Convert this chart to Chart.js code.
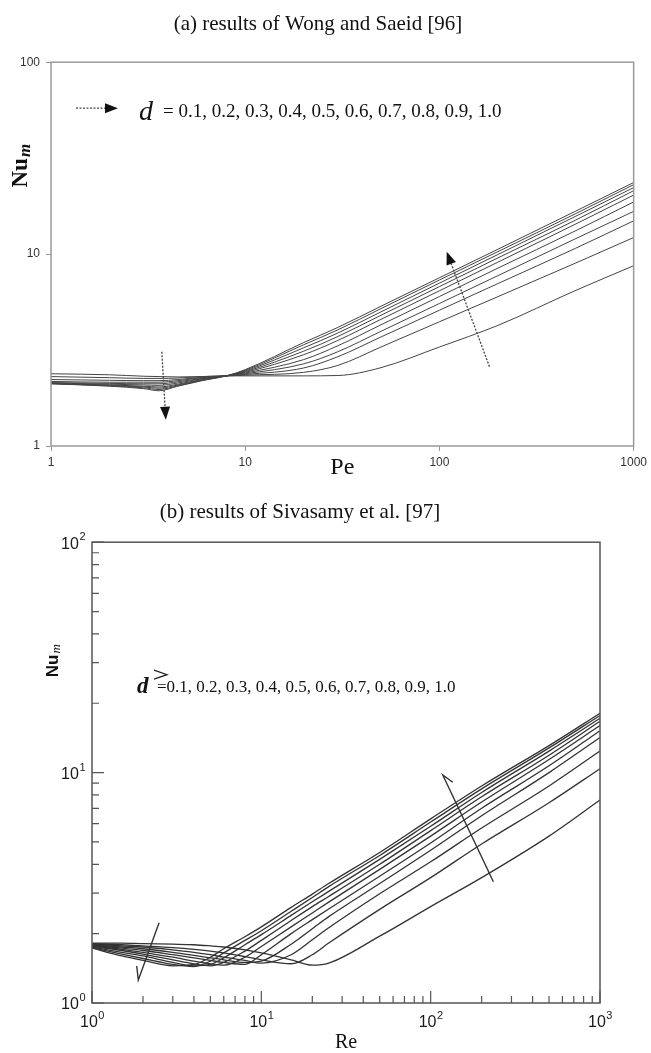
<!DOCTYPE html>
<html>
<head>
<meta charset="utf-8">
<script src="https://cdn.jsdelivr.net/npm/chart.js@4.4.1/dist/chart.umd.min.js"></script>
<style>
  body { margin: 0; background: #fff; }
  #wrap { position: relative; width: 651px; height: 1053px; }
  canvas { position: absolute; left: 0; }
</style>
</head>
<body>
<div id="wrap">
  <canvas id="wong" width="651" height="490" style="top:0"></canvas>
  <canvas id="siva" width="651" height="563" style="top:490px"></canvas>
</div>
<script>
// shared
const dValues = [0.1, 0.2, 0.3, 0.4, 0.5, 0.6, 0.7, 0.8, 0.9, 1.0];

// (a) Wong and Saeid, Nu_m vs Pe
const titleA = '(a) results of Wong and Saeid [96]';
const peValues = [1, 2, 3, 3.6, 4.5, 6, 8, 10, 20, 30, 50, 100, 200, 500, 1000];
const peTicks = [1, 10, 100, 1000];
const nuTicksA = [1, 10, 100];
const wong01 = [2.38, 2.35, 2.31, 2.30, 2.29, 2.30, 2.32, 2.32, 2.32, 2.33, 2.56, 3.28, 4.25, 6.45, 8.7];
const wong02 = [2.30, 2.27, 2.25, 2.25, 2.26, 2.30, 2.32, 2.34, 2.42, 2.63, 3.28, 4.44, 6.00, 8.96, 12.2];
const wong03 = [2.22, 2.20, 2.19, 2.19, 2.22, 2.28, 2.32, 2.36, 2.55, 2.92, 3.70, 5.10, 7.02, 10.7, 14.9];
const wong04 = [2.17, 2.15, 2.15, 2.15, 2.19, 2.27, 2.32, 2.38, 2.68, 3.10, 3.96, 5.53, 7.72, 12.0, 16.7];
const wong05 = [2.14, 2.12, 2.11, 2.11, 2.16, 2.25, 2.32, 2.40, 2.82, 3.33, 4.28, 6.01, 8.45, 13.2, 18.7];
const wong06 = [2.13, 2.10, 2.08, 2.07, 2.13, 2.24, 2.32, 2.42, 2.99, 3.55, 4.57, 6.44, 9.08, 14.3, 20.3];
const wong07 = [2.12, 2.08, 2.05, 2.03, 2.10, 2.22, 2.32, 2.44, 3.12, 3.72, 4.80, 6.77, 9.55, 15.0, 21.4];
const wong08 = [2.12, 2.07, 2.03, 2.00, 2.08, 2.21, 2.32, 2.46, 3.25, 3.88, 5.00, 7.06, 9.95, 15.7, 22.2];
const wong09 = [2.11, 2.06, 2.01, 1.97, 2.06, 2.20, 2.32, 2.48, 3.37, 4.03, 5.20, 7.33, 10.3, 16.2, 23.0];
const wong10 = [2.11, 2.05, 1.99, 1.94, 2.05, 2.19, 2.32, 2.50, 3.46, 4.15, 5.35, 7.53, 10.6, 16.7, 23.6];
const wongSeries = [wong01, wong02, wong03, wong04, wong05, wong06, wong07, wong08, wong09, wong10];
// annotation arrows in data units [Pe, Nu]
const wongArrows = [
  { from: [3.72, 3.10], to: [3.90, 1.37] },
  { from: [181, 2.59], to: [109, 10.3] }
];

// (b) Sivasamy et al., Nu_m vs Re
const titleB = '(b) results of Sivasamy et al. [97]';
const reValues = [1, 1.5, 2, 3, 4, 5, 6, 8, 10, 15, 20, 25, 50, 100, 200, 500, 1000];
const reMajor = [1, 10, 100, 1000];
const reMinor = [2, 3, 4, 5, 6, 7, 8, 9, 20, 30, 40, 50, 60, 70, 80, 90, 200, 300, 400, 500, 600, 700, 800, 900];
const nuMajorB = [1, 10, 100];
const nuMinorB = [2, 3, 4, 5, 6, 7, 8, 9, 20, 30, 40, 50, 60, 70, 80, 90];
const siva01 = [1.82, 1.82, 1.81, 1.80, 1.79, 1.77, 1.75, 1.70, 1.65, 1.54, 1.46, 1.49, 1.95, 2.62, 3.50, 5.30, 7.60];
const siva02 = [1.81, 1.79, 1.77, 1.74, 1.71, 1.68, 1.65, 1.59, 1.54, 1.48, 1.62, 1.82, 2.55, 3.50, 4.90, 7.40, 10.4];
const siva03 = [1.80, 1.77, 1.75, 1.70, 1.66, 1.62, 1.58, 1.53, 1.49, 1.62, 1.88, 2.12, 2.98, 4.10, 5.75, 8.75, 12.4];
const siva04 = [1.79, 1.75, 1.72, 1.66, 1.61, 1.57, 1.54, 1.50, 1.52, 1.80, 2.10, 2.37, 3.30, 4.60, 6.50, 10.0, 14.2];
const siva05 = [1.78, 1.73, 1.69, 1.62, 1.57, 1.53, 1.50, 1.47, 1.62, 2.00, 2.30, 2.56, 3.55, 4.95, 7.00, 10.7, 15.2];
const siva06 = [1.77, 1.71, 1.66, 1.58, 1.52, 1.48, 1.46, 1.58, 1.76, 2.14, 2.46, 2.74, 3.80, 5.30, 7.45, 11.4, 16.0];
const siva07 = [1.76, 1.69, 1.63, 1.54, 1.48, 1.45, 1.50, 1.68, 1.87, 2.28, 2.62, 2.90, 4.00, 5.60, 7.85, 11.9, 16.7];
const siva08 = [1.75, 1.66, 1.60, 1.50, 1.45, 1.47, 1.57, 1.79, 1.98, 2.40, 2.75, 3.05, 4.20, 5.85, 8.20, 12.4, 17.2];
const siva09 = [1.74, 1.63, 1.56, 1.47, 1.44, 1.52, 1.65, 1.87, 2.06, 2.50, 2.87, 3.20, 4.37, 6.10, 8.50, 12.8, 17.7];
const siva10 = [1.73, 1.60, 1.53, 1.45, 1.47, 1.58, 1.72, 1.94, 2.14, 2.60, 2.97, 3.30, 4.50, 6.30, 8.75, 13.1, 18.1];
const sivaSeries = [siva01, siva02, siva03, siva04, siva05, siva06, siva07, siva08, siva09, siva10];
const sivaArrows = [
  { from: [2.49, 2.23], to: [1.877, 1.259], barb: [1.837, 1.448] },
  { from: [234.6, 3.36], to: [117.9, 9.77], barb: [135, 9.08] }
];

const dList = dValues.map(v => v.toFixed(1)).join(', ');

function rotatedNu(ctx, cx, cy, fontMain, fontSub, drop) {
  ctx.save();
  ctx.translate(cx, cy);
  ctx.rotate(-Math.PI / 2);
  ctx.textBaseline = 'middle';
  ctx.textAlign = 'left';
  ctx.fillStyle = '#111';
  ctx.font = fontMain;
  const w1 = ctx.measureText('Nu').width;
  ctx.font = fontSub;
  const w2 = ctx.measureText('m').width;
  const x0 = -(w1 + w2) / 2;
  ctx.font = fontMain;
  ctx.fillText('Nu', x0, 0);
  ctx.font = fontSub;
  ctx.fillText('m', x0 + w1 + 1, drop);
  ctx.restore();
}

function dottedArrow(ctx, x1, y1, x2, y2) {
  const ang = Math.atan2(y2 - y1, x2 - x1);
  const head = 13, half = 5;
  const bx = x2 - head * Math.cos(ang), by = y2 - head * Math.sin(ang);
  ctx.save();
  ctx.strokeStyle = '#444';
  ctx.lineWidth = 1.3;
  ctx.setLineDash([2, 1.5]);
  ctx.beginPath();
  ctx.moveTo(x1, y1);
  ctx.lineTo(bx, by);
  ctx.stroke();
  ctx.setLineDash([]);
  ctx.fillStyle = '#111';
  ctx.beginPath();
  ctx.moveTo(x2, y2);
  ctx.lineTo(bx + half * Math.sin(ang), by - half * Math.cos(ang));
  ctx.lineTo(bx - half * Math.sin(ang), by + half * Math.cos(ang));
  ctx.closePath();
  ctx.fill();
  ctx.restore();
}

function powLabel(ctx, v, x, y, align) {
  const e = String(Math.round(Math.log10(v)));
  ctx.font = '16px "Liberation Sans"';
  const wb = ctx.measureText('10').width;
  ctx.font = '11px "Liberation Sans"';
  const ws = ctx.measureText(e).width;
  const start = align === 'right' ? x - wb - ws : x - (wb + ws) / 2;
  ctx.textAlign = 'left';
  ctx.textBaseline = 'middle';
  ctx.fillStyle = '#1a1a1a';
  ctx.font = '16px "Liberation Sans"';
  ctx.fillText('10', start, y);
  ctx.font = '11px "Liberation Sans"';
  ctx.fillText(e, start + wb + 0.5, y - 7);
}

const wongDecor = {
  id: 'wongDecor',
  afterDraw(chart) {
    const { ctx, chartArea: a, scales: { x, y } } = chart;
    ctx.save();
    ctx.strokeStyle = '#999';
    ctx.lineWidth = 1.5;
    ctx.strokeRect(a.left, a.top, a.right - a.left, a.bottom - a.top);
    rotatedNu(ctx, a.left - 30, a.top + 104, 'bold 23px "Liberation Serif"', 'italic bold 17px "Liberation Serif"', 5);
    dottedArrow(ctx, a.left + 25, a.top + 46, a.left + 67, a.top + 46);
    ctx.fillStyle = '#111';
    ctx.textAlign = 'left';
    ctx.textBaseline = 'alphabetic';
    ctx.font = 'italic 28px "Liberation Serif"';
    ctx.fillText('d', a.left + 88, a.top + 58);
    ctx.font = '19px "Liberation Serif"';
    ctx.fillText('= ' + dList, a.left + 112, a.top + 55);
    wongArrows.forEach(ar => dottedArrow(ctx,
      x.getPixelForValue(ar.from[0]), y.getPixelForValue(ar.from[1]),
      x.getPixelForValue(ar.to[0]), y.getPixelForValue(ar.to[1])));
    ctx.restore();
  }
};

const sivaDecor = {
  id: 'sivaDecor',
  afterDraw(chart) {
    const { ctx, chartArea: a, scales: { x, y } } = chart;
    ctx.save();
    ctx.strokeStyle = '#555';
    ctx.lineWidth = 1.5;
    ctx.strokeRect(a.left, a.top, a.right - a.left, a.bottom - a.top);
    ctx.lineWidth = 1.2;
    ctx.beginPath();
    reMajor.forEach(v => { const p = x.getPixelForValue(v); ctx.moveTo(p, a.bottom); ctx.lineTo(p, a.bottom - 12); });
    reMinor.forEach(v => { const p = x.getPixelForValue(v); ctx.moveTo(p, a.bottom); ctx.lineTo(p, a.bottom - 7); });
    nuMajorB.forEach(v => { const p = y.getPixelForValue(v); ctx.moveTo(a.left, p); ctx.lineTo(a.left + 12, p); });
    nuMinorB.forEach(v => { const p = y.getPixelForValue(v); ctx.moveTo(a.left, p); ctx.lineTo(a.left + 7, p); });
    ctx.stroke();
    reMajor.forEach(v => powLabel(ctx, v, x.getPixelForValue(v), a.bottom + 20, 'center'));
    nuMajorB.forEach(v => powLabel(ctx, v, a.left - 7, y.getPixelForValue(v) + 2, 'right'));
    rotatedNu(ctx, a.left - 39, a.top + 119, 'bold 17px "Liberation Sans"', 'italic 13px "Liberation Serif"', 4);
    // legend
    ctx.fillStyle = '#111';
    ctx.textAlign = 'left';
    ctx.textBaseline = 'alphabetic';
    ctx.font = 'italic bold 23px "Liberation Serif"';
    ctx.fillText('d', a.left + 45, a.top + 151);
    ctx.font = '17px "Liberation Serif"';
    ctx.fillText('=' + dList, a.left + 65, a.top + 150);
    ctx.strokeStyle = '#222';
    ctx.lineWidth = 1.3;
    ctx.beginPath();
    ctx.moveTo(a.left + 62, a.top + 128);
    ctx.lineTo(a.left + 75, a.top + 132.5);
    ctx.lineTo(a.left + 62, a.top + 137);
    ctx.stroke();
    // arrows
    ctx.strokeStyle = '#333';
    ctx.lineWidth = 1.4;
    sivaArrows.forEach(ar => {
      ctx.beginPath();
      ctx.moveTo(x.getPixelForValue(ar.from[0]), y.getPixelForValue(ar.from[1]));
      ctx.lineTo(x.getPixelForValue(ar.to[0]), y.getPixelForValue(ar.to[1]));
      ctx.lineTo(x.getPixelForValue(ar.barb[0]), y.getPixelForValue(ar.barb[1]));
      ctx.stroke();
    });
    ctx.restore();
  }
};

const serif = 'Liberation Serif';

new Chart(document.getElementById('wong'), {
  type: 'line',
  data: {
    datasets: wongSeries.map((vals, i) => ({
      label: 'd = ' + dValues[i],
      data: peValues.map((p, j) => ({ x: p, y: vals[j] })),
      borderColor: '#444',
      borderWidth: 1,
      pointRadius: 0,
      cubicInterpolationMode: 'monotone'
    }))
  },
  options: {
    responsive: false,
    animation: false,
    devicePixelRatio: 1,
    layout: { padding: { right: 15 } },
    plugins: {
      legend: { display: false },
      tooltip: { enabled: false },
      title: {
        display: true,
        text: titleA,
        color: '#111',
        font: { family: serif, size: 21, weight: 'normal' },
        padding: { top: 12, bottom: 25 }
      }
    },
    scales: {
      x: {
        type: 'logarithmic',
        min: 1,
        max: 1000,
        afterBuildTicks: s => { s.ticks = peTicks.map(v => ({ value: v })); },
        afterFit: s => { s.height = 44; },
        ticks: { callback: v => String(v), color: '#333', font: { size: 12 }, padding: 4, maxRotation: 0, autoSkip: false },
        grid: { drawOnChartArea: false, tickLength: 5, color: '#999' },
        border: { display: false },
        title: { display: true, text: 'Pe', color: '#111', font: { family: serif, size: 24 }, padding: { top: 0, bottom: 8 } }
      },
      y: {
        type: 'logarithmic',
        min: 1,
        max: 100,
        afterBuildTicks: s => { s.ticks = nuTicksA.map(v => ({ value: v })); },
        afterFit: s => { s.width = 51; },
        ticks: { callback: v => String(v), color: '#333', font: { size: 12 }, padding: 6, autoSkip: false },
        grid: { drawOnChartArea: false, tickLength: 5, color: '#999' },
        border: { display: false }
      }
    }
  },
  plugins: [wongDecor]
});

new Chart(document.getElementById('siva'), {
  type: 'line',
  data: {
    datasets: sivaSeries.map((vals, i) => ({
      label: 'd = ' + dValues[i],
      data: reValues.map((r, j) => ({ x: r, y: vals[j] })),
      borderColor: '#333',
      borderWidth: 1.3,
      pointRadius: 0,
      cubicInterpolationMode: 'monotone'
    }))
  },
  options: {
    responsive: false,
    animation: false,
    devicePixelRatio: 1,
    layout: { padding: { right: 51 } },
    plugins: {
      legend: { display: false },
      tooltip: { enabled: false },
      title: {
        display: true,
        text: titleB,
        color: '#111',
        font: { family: serif, size: 21, weight: 'normal' },
        padding: { top: 10, bottom: 17 }
      }
    },
    scales: {
      x: {
        type: 'logarithmic',
        min: 1,
        max: 1000,
        afterFit: s => { s.height = 50; },
        ticks: { display: false },
        grid: { display: false },
        border: { display: false },
        title: { display: true, text: 'Re', color: '#111', font: { family: serif, size: 20, lineHeight: 1 }, padding: { top: 0, bottom: 0 } }
      },
      y: {
        type: 'logarithmic',
        min: 1,
        max: 100,
        afterFit: s => { s.width = 92; },
        ticks: { display: false },
        grid: { display: false },
        border: { display: false }
      }
    }
  },
  plugins: [sivaDecor]
});
</script>
</body>
</html>
